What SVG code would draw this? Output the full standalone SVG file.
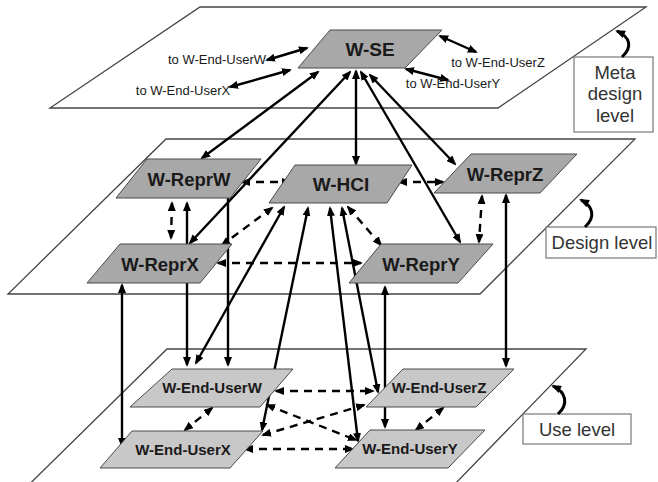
<svg xmlns="http://www.w3.org/2000/svg" width="658" height="482" viewBox="0 0 658 482">
<style>
.plane{fill:#fff;stroke:#444;stroke-width:1.3}
.n1{fill:#a8a8a8;stroke:#4a4a4a;stroke-width:1}
.n2{fill:#c8c8c8;stroke:#4a4a4a;stroke-width:1}
.t1{font-family:"Liberation Sans",Arial,sans-serif;font-weight:bold;font-size:18.5px;fill:#1a1a1a;text-anchor:middle}
.t2{font-family:"Liberation Sans",Arial,sans-serif;font-weight:bold;font-size:15px;fill:#1a1a1a;text-anchor:middle}
.t3{font-family:"Liberation Sans",Arial,sans-serif;font-size:13px;fill:#1a1a1a;text-anchor:middle}
.lb{fill:#fff;stroke:#777;stroke-width:1.2}
.lt{font-family:"Liberation Sans",Arial,sans-serif;font-size:18.5px;fill:#333;text-anchor:middle}
.s{stroke:#000;stroke-width:2.4;fill:none;marker-start:url(#ah);marker-end:url(#ah)}
.s1{stroke:#000;stroke-width:2.4;fill:none;marker-end:url(#ah)}
.d{stroke:#000;stroke-width:2.4;fill:none;stroke-dasharray:8 6;marker-start:url(#ah);marker-end:url(#ah)}
.h{stroke:#000;stroke-width:3;fill:none;marker-end:url(#ah)}
</style>
<defs>
<marker id="ah" viewBox="0 0 10 8" refX="8" refY="4" markerWidth="10" markerHeight="8" markerUnits="userSpaceOnUse" orient="auto-start-reverse"><path d="M0,0 L10,4 L0,8 z" fill="#000"/></marker>
</defs>
<rect width="658" height="482" fill="#fff"/>
<g id="planes">
<polygon class="plane" points="200,7 646,7 498,108 50,108"/>
<polygon class="plane" points="166,139 635,139 480,294 8,294"/>
<polygon class="plane" points="167,349 586,349 420,520 -7,520"/>
</g>
<g id="levels">
<rect class="lb" x="574" y="57" width="79" height="75"/>
<text class="lt" x="615" y="79">Meta</text>
<text class="lt" x="615" y="100">design</text>
<text class="lt" x="615" y="122">level</text>
<rect class="lb" x="546" y="227" width="110" height="31"/>
<text class="lt" x="602" y="249">Design level</text>
<rect class="lb" x="523" y="414" width="108" height="30"/>
<text class="lt" x="577" y="436">Use level</text>
<path class="h" d="M622,57 C633,47 630,37 617,31"/>
<path class="h" d="M585,227 C596,217 593,206 581,200"/>
<path class="h" d="M558,414 C569,404 566,392 553,386"/>
</g>
<g id="connectors">
<line class="s" x1="318" y1="72" x2="202" y2="158"/>
<line class="s" x1="350" y1="72" x2="190" y2="243"/>
<line class="s" x1="356" y1="71" x2="356" y2="164"/>
<line class="s" x1="361" y1="72" x2="460" y2="242"/>
<line class="s" x1="370" y1="75" x2="455" y2="164"/>
<line class="s" x1="267" y1="60" x2="307" y2="48"/>
<line class="s" x1="230" y1="87" x2="290" y2="70"/>
<line class="s" x1="440" y1="36" x2="476" y2="52"/>
<line class="s" x1="406" y1="69" x2="448" y2="80"/>
<line class="d" x1="242" y1="182" x2="290" y2="182"/>
<line class="d" x1="399" y1="182" x2="443" y2="182"/>
<line class="d" x1="272" y1="208" x2="222" y2="245"/>
<line class="d" x1="348" y1="207" x2="381" y2="245"/>
<line class="d" x1="218" y1="263" x2="361" y2="263"/>
<line class="d" x1="172" y1="203" x2="171" y2="238"/>
<line class="d" x1="482" y1="196" x2="479" y2="242"/>
<line class="s" x1="187" y1="203" x2="187" y2="365"/>
<line class="s1" x1="228" y1="198" x2="228" y2="365"/>
<line class="s" x1="122" y1="285" x2="122" y2="446"/>
<line class="s" x1="385" y1="287" x2="385" y2="427"/>
<line class="s" x1="506" y1="195" x2="506" y2="366"/>
<line class="s" x1="284" y1="207" x2="196" y2="363"/>
<line class="s" x1="308" y1="208" x2="262" y2="430"/>
<line class="s" x1="330" y1="208" x2="358" y2="441"/>
<line class="s" x1="342" y1="208" x2="378" y2="392"/>
<line class="d" x1="276" y1="391" x2="373" y2="391"/>
<line class="d" x1="245" y1="449" x2="353" y2="449"/>
<line class="d" x1="267" y1="405" x2="356" y2="440"/>
<line class="d" x1="263" y1="435" x2="364" y2="405"/>
<line class="d" x1="212" y1="408" x2="185" y2="430"/>
<line class="d" x1="443" y1="408" x2="416" y2="430"/>
</g>
<g id="labels-to">
<text class="t3" x="217" y="64">to W-End-UserW</text>
<text class="t3" x="183" y="95">to W-End-UserX</text>
<text class="t3" x="498" y="67">to W-End-UserZ</text>
<text class="t3" x="453" y="88">to W-End-UserY</text>
</g>
<g id="W-SE"><polygon class="n1" points="330,30 442,30 405,68 298,68"/><text class="t1" x="370" y="56" style="font-size:19px">W-SE</text></g>
<g id="W-ReprW"><polygon class="n1" points="147,159 261,159 230,198 116,198"/><text class="t1" x="189" y="186">W-ReprW</text></g>
<g id="W-HCI"><polygon class="n1" points="295,165 412,165 387,203 269,203"/><text class="t1" x="341" y="191" style="font-size:19px">W-HCI</text></g>
<g id="W-ReprZ"><polygon class="n1" points="471,154 577,154 540,193 434,193"/><text class="t1" x="505" y="181">W-ReprZ</text></g>
<g id="W-ReprX"><polygon class="n1" points="120,244 232,244 200,283 87,283"/><text class="t1" x="160" y="271">W-ReprX</text></g>
<g id="W-ReprY"><polygon class="n1" points="381,244 493,244 458,283 349,283"/><text class="t1" x="421" y="271">W-ReprY</text></g>
<g id="W-End-UserW"><polygon class="n2" points="172,369 293,369 260,407 130,407"/><text class="t2" x="212" y="393">W-End-UserW</text></g>
<g id="W-End-UserX"><polygon class="n2" points="132,431 263,431 230,468 100,468"/><text class="t2" x="183" y="455">W-End-UserX</text></g>
<g id="W-End-UserZ"><polygon class="n2" points="403,369 514,369 476,407 366,407"/><text class="t2" x="439" y="393">W-End-UserZ</text></g>
<g id="W-End-UserY"><polygon class="n2" points="370,430 485,430 448,468 335,468"/><text class="t2" x="410" y="454">W-End-UserY</text></g>
</svg>
